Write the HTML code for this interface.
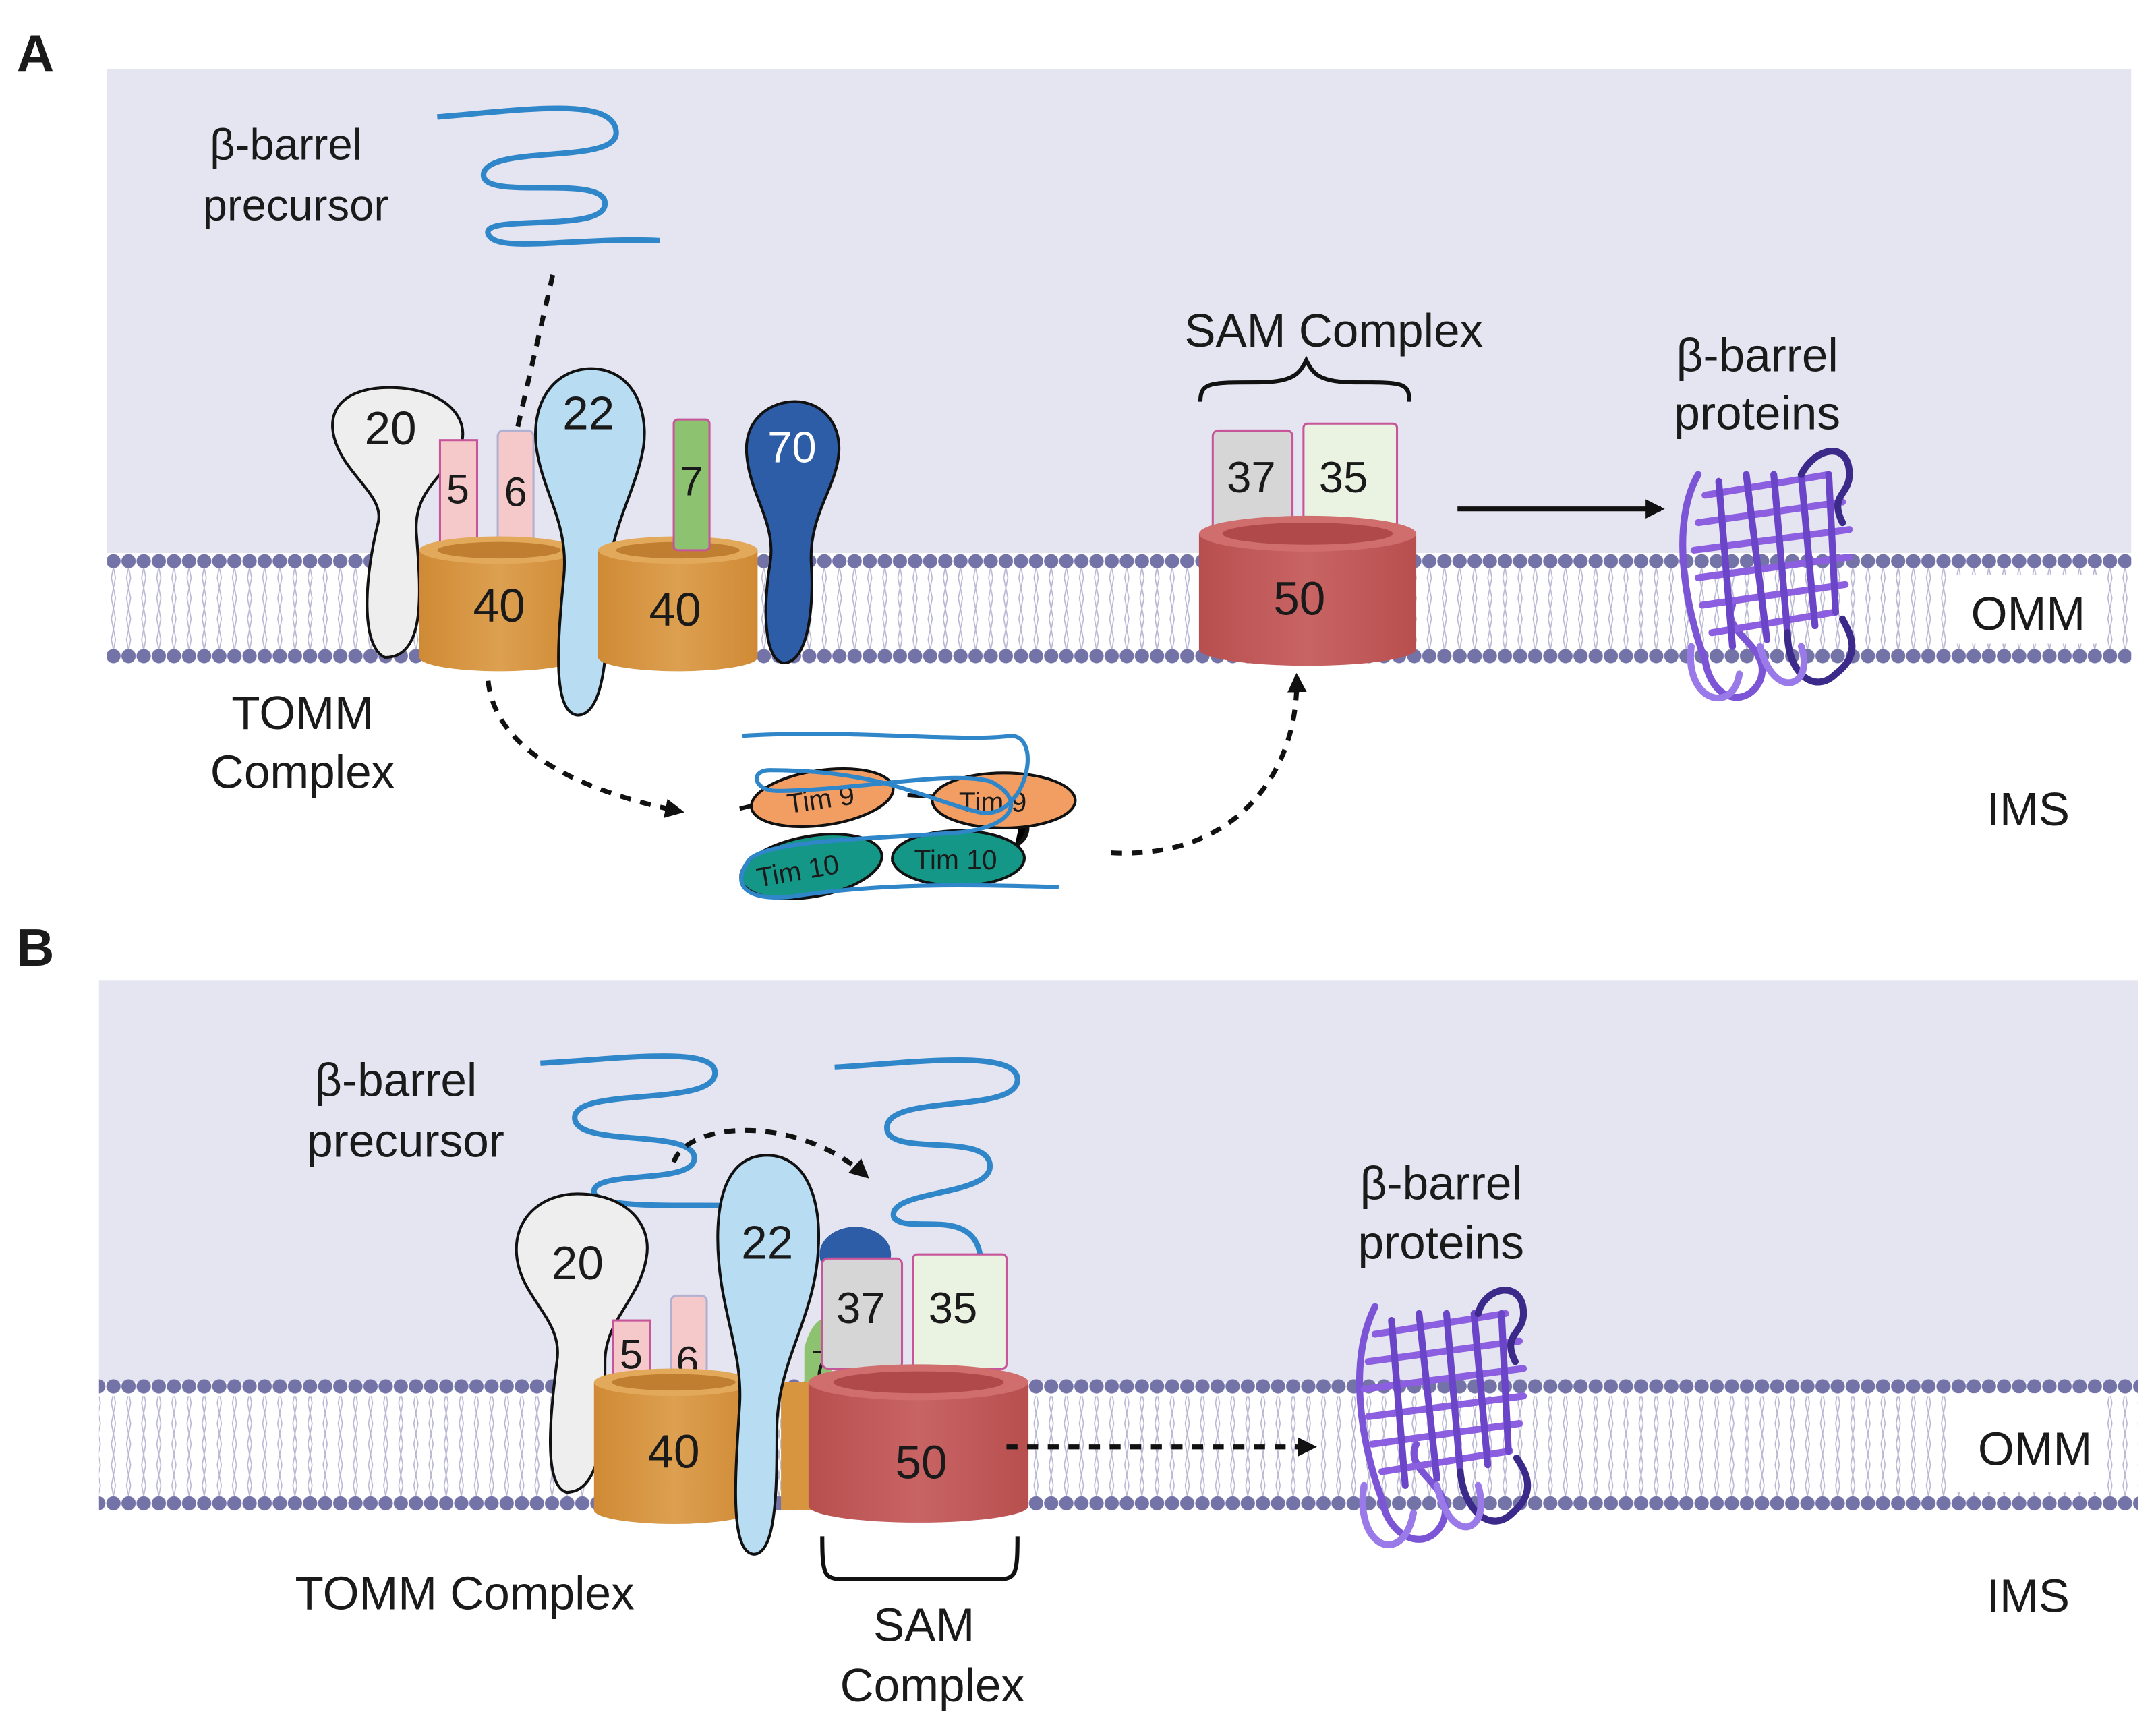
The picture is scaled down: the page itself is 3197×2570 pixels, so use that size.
<!DOCTYPE html>
<html><head><meta charset="utf-8"><style>
html,body{margin:0;padding:0;background:#fff}
svg{display:block}
text{font-family:"Liberation Sans",sans-serif;fill:#1a1a1a}
</style></head><body>
<svg width="3197" height="2570" viewBox="0 0 1568 1260" preserveAspectRatio="none" xmlns="http://www.w3.org/2000/svg">
<defs>
<pattern id="bA1" x="0" y="402" width="11" height="12" patternUnits="userSpaceOnUse"><circle cx="5.5" cy="6" r="5.2" fill="#7473a8"/></pattern>
<pattern id="bA2" x="0" y="471" width="11" height="12" patternUnits="userSpaceOnUse"><circle cx="5.5" cy="6" r="5.2" fill="#7473a8"/></pattern>
<pattern id="bB1" x="0" y="1002" width="11" height="12" patternUnits="userSpaceOnUse"><circle cx="5.5" cy="6" r="5.2" fill="#7473a8"/></pattern>
<pattern id="bB2" x="0" y="1087" width="11" height="12" patternUnits="userSpaceOnUse"><circle cx="5.5" cy="6" r="5.2" fill="#7473a8"/></pattern>
<pattern id="tails" x="0" y="0" width="11" height="60" patternUnits="userSpaceOnUse"><path d="M4 0 L7 15 L4 30 L7 45 L4 60 M7 0 L4 15 L7 30 L4 45 L7 60" stroke="#b8b7d2" stroke-width="0.8" fill="none"/></pattern>
<marker id="ah" viewBox="0 0 10 10" refX="8" refY="5" markerWidth="4" markerHeight="4" orient="auto"><path d="M0 0 L10 5 L0 10 z" fill="#111"/></marker>
<linearGradient id="cyl" x1="0" x2="1"><stop offset="0" stop-color="#d08a35"/><stop offset="0.5" stop-color="#dca050"/><stop offset="1" stop-color="#d08a35"/></linearGradient>
<linearGradient id="cylr" x1="0" x2="1"><stop offset="0" stop-color="#b84f4f"/><stop offset="0.5" stop-color="#c96464"/><stop offset="1" stop-color="#b84f4f"/></linearGradient>
</defs>

<!-- PANEL A -->
<text x="12" y="52" font-size="38" font-weight="bold">A</text>
<rect x="78" y="50" width="1472" height="352" fill="#e5e4f1"/>
<rect x="78" y="412" width="1472" height="60" fill="url(#tails)"/>
<rect x="78" y="402" width="1472" height="12" fill="url(#bA1)"/>
<rect x="78" y="471" width="1472" height="12" fill="url(#bA2)"/>
<rect x="1420" y="418" width="108" height="50" fill="#fff"/>
<text x="1475" y="458" font-size="34" text-anchor="middle">OMM</text>
<text x="1475" y="600" font-size="34" text-anchor="middle">IMS</text>

<text x="208" y="116" font-size="32" text-anchor="middle">β-barrel</text>
<text x="215" y="160" font-size="32" text-anchor="middle">precursor</text>
<path d="M318 85 C380 80 445 70 448 95 C452 120 360 105 352 125 C345 148 440 125 440 148 C440 170 350 155 355 170 C360 185 420 172 480 175" stroke="#2f86c8" stroke-width="4" fill="none"/>
<path d="M402 200 L372 330" stroke="#111" stroke-width="3.5" stroke-dasharray="8,7" fill="none"/>

<path d="M280 478 C262 470 265 420 275 380 C280 360 250 345 243 318 C236 290 262 280 290 282 C330 285 345 310 332 330 C318 350 300 360 303 390 C306 430 310 478 280 478 Z" fill="#eeeeee" stroke="#111" stroke-width="2"/>
<text x="284" y="323" font-size="34" text-anchor="middle">20</text>
<rect x="320" y="320" width="27" height="82" fill="#f5c9c9" stroke="#c7559a" stroke-width="1.5"/>
<text x="333" y="366" font-size="30" text-anchor="middle">5</text>
<rect x="362" y="313" width="26" height="89" rx="4" fill="#f5c9c9" stroke="#b0b0d0" stroke-width="1.5"/>
<text x="375" y="368" font-size="30" text-anchor="middle">6</text>
<path d="M305 400 L305 478 A58 10 0 0 0 421 478 L421 400 Z" fill="url(#cyl)"/>
<ellipse cx="363" cy="400" rx="58" ry="10" fill="#e3a95a"/><ellipse cx="363" cy="400" rx="45" ry="6" fill="#c07f30"/>
<text x="363" y="452" font-size="34" text-anchor="middle">40</text>
<path d="M420 520 C402 518 405 470 410 420 C414 380 395 360 390 325 C386 290 405 268 430 268 C458 268 472 295 468 325 C462 360 442 385 442 430 C442 470 440 520 420 520 Z" fill="#b8dcf2" stroke="#111" stroke-width="2"/>
<text x="428" y="312" font-size="34" text-anchor="middle">22</text>
<path d="M435 400 L435 478 A58 10 0 0 0 551 478 L551 400 Z" fill="url(#cyl)"/>
<ellipse cx="493" cy="400" rx="58" ry="10" fill="#e3a95a"/><ellipse cx="493" cy="400" rx="45" ry="6" fill="#c07f30"/>
<text x="491" y="455" font-size="34" text-anchor="middle">40</text>
<rect x="490" y="305" width="26" height="95" rx="3" fill="#8cc270" stroke="#c7559a" stroke-width="1.5"/>
<text x="503" y="360" font-size="30" text-anchor="middle">7</text>
<path d="M570 482 C555 480 555 440 560 410 C565 380 545 360 543 330 C541 305 560 292 578 292 C598 292 612 308 610 330 C608 355 588 375 590 410 C592 440 588 482 570 482 Z" fill="#2c5da6" stroke="#111" stroke-width="2"/>
<text x="576" y="336" font-size="32" text-anchor="middle" style="fill:#fff">70</text>

<text x="220" y="530" font-size="34" text-anchor="middle">TOMM</text>
<text x="220" y="573" font-size="34" text-anchor="middle">Complex</text>

<path d="M355 495 C360 545 420 575 495 590" stroke="#111" stroke-width="3.5" stroke-dasharray="8,7" fill="none" marker-end="url(#ah)"/>
<path d="M808 620 C900 625 945 560 943 492" stroke="#111" stroke-width="3.5" stroke-dasharray="8,7" fill="none" marker-end="url(#ah)"/>

<path d="M538 588 L550 585" stroke="#111" stroke-width="3"/>
<path d="M660 578 L690 580 M743 592 C750 600 748 610 738 615 M695 625 L648 625" stroke="#111" stroke-width="3"/>
<ellipse cx="598" cy="580" rx="52" ry="20" transform="rotate(-8 598 580)" fill="#f29e63" stroke="#111" stroke-width="2"/>
<ellipse cx="730" cy="582" rx="52" ry="20" fill="#f29e63" stroke="#111" stroke-width="2"/>
<ellipse cx="590" cy="630" rx="52" ry="22" transform="rotate(-10 590 630)" fill="#149786" stroke="#111" stroke-width="2"/>
<ellipse cx="697" cy="624" rx="48" ry="20" fill="#149786" stroke="#111" stroke-width="2"/>
<text x="597" y="588" font-size="20" text-anchor="middle" transform="rotate(-8 597 582)">Tim 9</text>
<text x="722" y="590" font-size="20" text-anchor="middle">Tim 9</text>
<text x="580" y="640" font-size="20" text-anchor="middle" transform="rotate(-10 580 632)">Tim 10</text>
<text x="695" y="632" font-size="20" text-anchor="middle">Tim 10</text>
<path d="M540 535 C620 530 700 540 735 535 C760 535 745 600 710 590 C670 580 640 560 560 560 C545 560 548 575 565 575 C620 575 690 560 720 568 C745 580 740 600 700 605 C640 610 560 610 545 625 C530 645 545 655 575 652 C640 642 700 643 770 645" stroke="#2f86c8" stroke-width="3" fill="none"/>

<text x="970" y="252" font-size="34" text-anchor="middle">SAM Complex</text>
<path d="M873 292 C873 278 880 278 915 278 C940 278 945 272 950 262 C955 272 960 278 985 278 C1020 278 1025 278 1025 292" stroke="#111" stroke-width="3" fill="none"/>
<rect x="882" y="313" width="58" height="72" rx="4" fill="#d6d6d6" stroke="#c7559a" stroke-width="1.5"/>
<text x="910" y="358" font-size="32" text-anchor="middle">37</text>
<rect x="948" y="308" width="68" height="77" rx="3" fill="#eaf2e2" stroke="#c7559a" stroke-width="1.5"/>
<text x="977" y="358" font-size="32" text-anchor="middle">35</text>
<path d="M872 388 L872 472 A79 12 0 0 0 1030 472 L1030 388 Z" fill="url(#cylr)"/>
<ellipse cx="951" cy="388" rx="79" ry="13" fill="#d06d6d"/><ellipse cx="951" cy="388" rx="62" ry="8" fill="#b04a4a"/>
<text x="945" y="447" font-size="34" text-anchor="middle">50</text>
<path d="M1060 370 L1208 370" stroke="#111" stroke-width="3.5" marker-end="url(#ah)"/>

<text x="1278" y="270" font-size="34" text-anchor="middle">β-barrel</text>
<text x="1278" y="312" font-size="34" text-anchor="middle">proteins</text>
<g fill="none" stroke-width="5" stroke-linecap="round">
<path d="M1235 345 C1215 380 1225 440 1240 480 C1245 510 1270 515 1280 495 C1290 470 1250 460 1260 440" stroke="#7b55d6"/>
<path d="M1240 360 L1330 345 M1235 380 L1340 365 M1232 400 L1345 385 M1235 420 L1345 405 M1238 440 L1342 425 M1245 460 L1335 445" stroke="#8c5fe0"/>
<path d="M1250 350 L1260 470 M1270 345 L1285 465 M1290 345 L1300 460 M1310 345 L1320 455 M1330 345 L1335 445" stroke="#6a45c8"/>
<path d="M1310 345 C1320 325 1345 320 1345 345 C1345 360 1330 360 1340 380 M1300 460 C1300 490 1320 505 1335 490 C1355 475 1345 460 1340 450" stroke="#3c2a8a"/>
<path d="M1230 470 C1225 510 1260 520 1265 490 M1280 470 C1290 510 1320 500 1310 470" stroke="#9a7ae8"/>
</g>

<!-- PANEL B -->
<text x="12" y="702" font-size="38" font-weight="bold">B</text>
<rect x="72" y="713" width="1483" height="292" fill="#e5e4f1"/>
<rect x="72" y="1015" width="1483" height="75" fill="url(#tails)"/>
<rect x="72" y="1002" width="1483" height="12" fill="url(#bB1)"/>
<rect x="72" y="1087" width="1483" height="12" fill="url(#bB2)"/>
<rect x="1418" y="1013" width="112" height="72" fill="#fff"/>
<text x="1480" y="1065" font-size="34" text-anchor="middle">OMM</text>
<text x="1475" y="1172" font-size="34" text-anchor="middle">IMS</text>

<text x="288" y="797" font-size="34" text-anchor="middle">β-barrel</text>
<text x="295" y="841" font-size="34" text-anchor="middle">precursor</text>
<path d="M393 773 C450 770 520 760 520 780 C520 805 420 790 418 812 C416 835 505 820 505 842 C505 862 430 850 432 867 C435 880 500 875 556 877" stroke="#2f86c8" stroke-width="4" fill="none"/>
<path d="M607 776 C660 773 740 762 740 785 C740 810 645 795 645 820 C645 842 720 822 720 848 C720 870 645 865 650 885 C660 900 720 870 713 930" stroke="#2f86c8" stroke-width="4" fill="none"/>
<path d="M490 845 C500 815 580 810 630 855" stroke="#111" stroke-width="3.5" stroke-dasharray="8,7" fill="none" marker-end="url(#ah)"/>

<path d="M412 1085 C395 1080 400 1030 405 990 C410 960 380 945 376 915 C372 885 395 868 420 868 C455 868 475 890 470 915 C465 945 440 960 440 990 C440 1030 440 1085 412 1085 Z" fill="#eeeeee" stroke="#111" stroke-width="2"/>
<text x="420" y="930" font-size="34" text-anchor="middle">20</text>
<rect x="446" y="960" width="27" height="50" fill="#f5c9c9" stroke="#c7559a" stroke-width="1.5"/>
<text x="459" y="995" font-size="30" text-anchor="middle">5</text>
<rect x="488" y="942" width="26" height="68" rx="4" fill="#f5c9c9" stroke="#b0b0d0" stroke-width="1.5"/>
<text x="500" y="1000" font-size="30" text-anchor="middle">6</text>
<path d="M432 1005 L432 1098 A58 10 0 0 0 548 1098 L548 1005 Z" fill="url(#cyl)"/>
<ellipse cx="490" cy="1005" rx="58" ry="10" fill="#e3a95a"/><ellipse cx="490" cy="1005" rx="45" ry="6" fill="#c07f30"/>
<text x="490" y="1067" font-size="34" text-anchor="middle">40</text>
<path d="M568 1005 L568 1098 L600 1098 L600 1005 Z" fill="#d8953f"/>
<ellipse cx="622" cy="912" rx="26" ry="20" fill="#2c5da6"/>
<path d="M585 980 C590 960 600 955 605 960 L605 1005 L585 1005 Z" fill="#8cc270"/>
<text x="590" y="1000" font-size="26">7</text>
<path d="M548 1130 C530 1128 535 1070 538 1020 C540 980 522 950 522 900 C522 860 535 840 558 840 C585 840 598 870 595 910 C592 960 565 990 565 1040 C565 1080 565 1130 548 1130 Z" fill="#b8dcf2" stroke="#111" stroke-width="2"/>
<text x="558" y="915" font-size="34" text-anchor="middle">22</text>
<rect x="598" y="915" width="58" height="80" rx="4" fill="#d6d6d6" stroke="#c7559a" stroke-width="1.5"/>
<text x="626" y="962" font-size="32" text-anchor="middle">37</text>
<rect x="664" y="912" width="68" height="83" rx="3" fill="#eaf2e2" stroke="#c7559a" stroke-width="1.5"/>
<text x="693" y="962" font-size="32" text-anchor="middle">35</text>
<path d="M588 1005 L588 1095 A80 12 0 0 0 748 1095 L748 1005 Z" fill="url(#cylr)"/>
<ellipse cx="668" cy="1005" rx="80" ry="13" fill="#d06d6d"/><ellipse cx="668" cy="1005" rx="62" ry="8" fill="#b04a4a"/>
<text x="670" y="1075" font-size="34" text-anchor="middle">50</text>
<path d="M732 1052 L955 1052" stroke="#111" stroke-width="3.5" stroke-dasharray="8,7" marker-end="url(#ah)"/>
<path d="M598 1117 C598 1150 600 1148 620 1148 L720 1148 C738 1148 740 1150 740 1117" stroke="#111" stroke-width="3" fill="none"/>
<text x="338" y="1170" font-size="34" text-anchor="middle">TOMM Complex</text>
<text x="672" y="1193" font-size="34" text-anchor="middle">SAM</text>
<text x="678" y="1237" font-size="34" text-anchor="middle">Complex</text>

<text x="1048" y="872" font-size="34" text-anchor="middle">β-barrel</text>
<text x="1048" y="915" font-size="34" text-anchor="middle">proteins</text>
<g fill="none" stroke-width="5" stroke-linecap="round">
<path d="M1000 950 C980 990 990 1050 1005 1090 C1010 1120 1040 1130 1050 1105 C1058 1080 1020 1070 1030 1050" stroke="#7b55d6"/>
<path d="M1000 970 L1095 955 M995 990 L1105 975 M992 1010 L1108 995 M995 1030 L1108 1015 M998 1050 L1105 1035 M1005 1070 L1098 1055" stroke="#8c5fe0"/>
<path d="M1012 960 L1022 1080 M1032 955 L1045 1075 M1052 955 L1062 1070 M1072 955 L1082 1065 M1092 955 L1097 1055" stroke="#6a45c8"/>
<path d="M1075 955 C1080 935 1108 930 1108 955 C1108 970 1092 970 1102 990 M1062 1070 C1065 1100 1085 1115 1100 1100 C1118 1085 1110 1070 1103 1060" stroke="#3c2a8a"/>
<path d="M992 1080 C985 1125 1020 1140 1028 1100 M1045 1080 C1055 1125 1085 1115 1075 1080" stroke="#9a7ae8"/>
</g>
</svg>
</body></html>
